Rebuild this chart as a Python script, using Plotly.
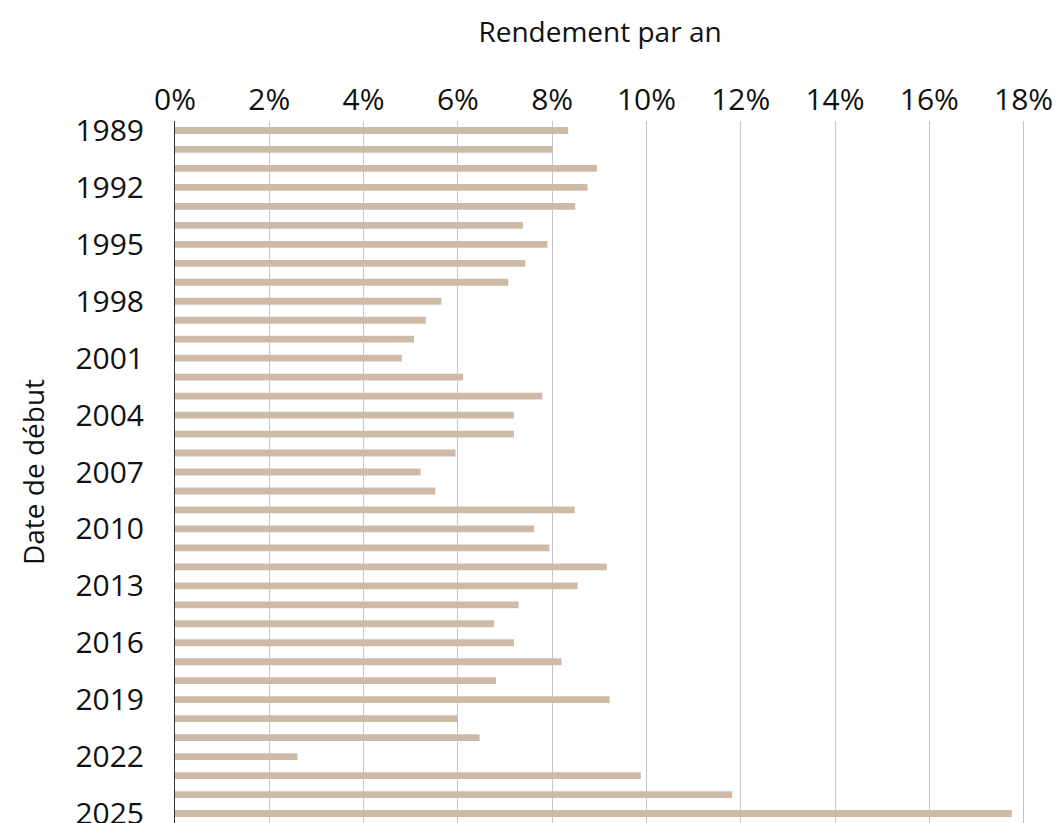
import plotly.graph_objects as go

years = list(range(1989, 2026))
rendement = [8.34, 8.01, 8.95, 8.75, 8.49, 7.38, 7.90, 7.43, 7.07, 5.65,
             5.32, 5.07, 4.81, 6.11, 7.79, 7.19, 7.19, 5.95, 5.21, 5.52,
             8.48, 7.62, 7.94, 9.16, 8.54, 7.29, 6.77, 7.19, 8.20, 6.81,
             9.22, 6.00, 6.46, 2.60, 9.88, 11.82, 17.75]
x_ticks = [0, 2, 4, 6, 8, 10, 12, 14, 16, 18]
x_ticktext = ["0%", "2%", "4%", "6%", "8%", "10%", "12%", "14%", "16%", "18%"]
y_ticks = list(range(1989, 2026, 3))
y_ticktext = [str(y) for y in y_ticks]

FONT = "Open Sans"
FS_TITLE = 28
FS_TICK = 30

fig = go.Figure(go.Bar(
    x=rendement, y=years, orientation="h",
    marker=dict(color="#CDBAA7", line=dict(width=0)),
    width=0.36,
))

# the page body adds an 8px offset, so the figure is sized to fill the window
fig.update_layout(
    width=1053, height=815,
    margin=dict(l=167, r=36, t=113, b=0),
    paper_bgcolor="white", plot_bgcolor="white",
    font=dict(family=FONT, size=FS_TICK, color="#111111"),
    showlegend=False,
    xaxis=dict(
        side="top", range=[0, 18.03], tickvals=x_ticks, ticktext=x_ticktext,
        showgrid=True, gridcolor="#c6c6c6", gridwidth=1,
        zeroline=False, showline=False, ticks="",
        automargin=False,
        ticklabelstandoff=4,
        title=dict(text="Rendement par an", standoff=27,
                   font=dict(family=FONT, size=FS_TITLE)),
        tickfont=dict(family=FONT, size=FS_TICK),
    ),
    yaxis=dict(
        range=[2025.5, 1988.5], tickvals=y_ticks, ticktext=y_ticktext,
        showgrid=False, zeroline=False, showline=True,
        linecolor="#333333", linewidth=1, ticks="",
        automargin=False,
        ticklabelstandoff=24,
        ticklabeloverflow="allow",
        title=dict(text="Date de début", standoff=22,
                   font=dict(family=FONT, size=FS_TITLE)),
        tickfont=dict(family=FONT, size=FS_TICK),
    ),
)

fig.write_html("out.html")
